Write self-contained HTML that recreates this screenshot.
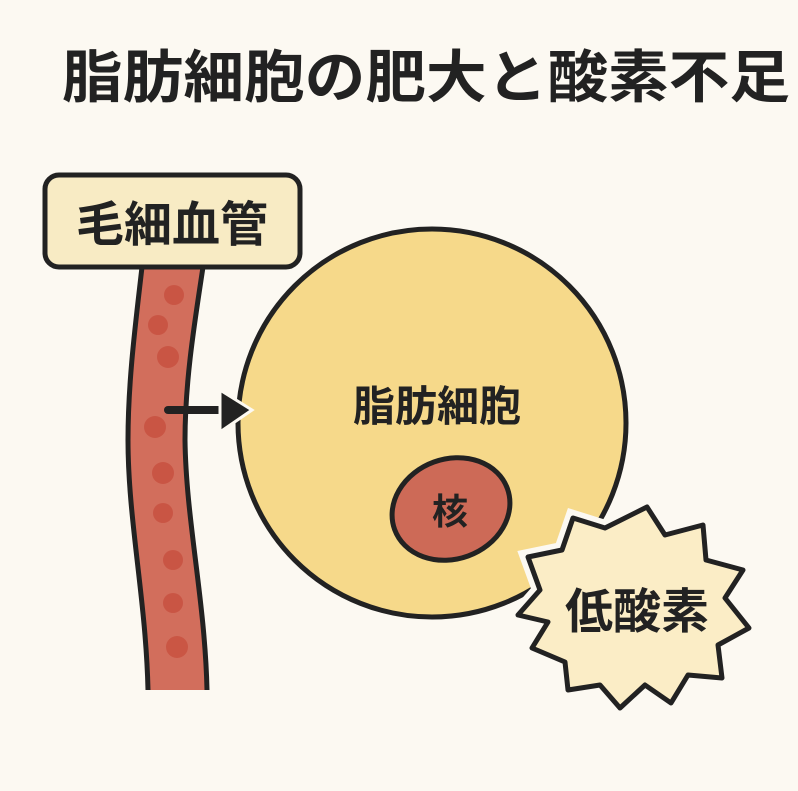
<!DOCTYPE html>
<html><head><meta charset="utf-8"><style>
html,body{margin:0;padding:0;background:#fcf9f2}
svg{display:block}
text{font-family:"Liberation Sans","Noto Sans CJK JP",sans-serif;font-weight:bold;fill:#222}
</style></head><body>
<svg width="798" height="791" viewBox="0 0 798 791" xmlns="http://www.w3.org/2000/svg">
<rect width="798" height="791" fill="#fcf9f2"/>
<text x="62" y="97" font-size="57" textLength="728" lengthAdjust="spacingAndGlyphs">脂肪細胞の肥大と酸素不足</text>
<!-- capillary -->
<path d="M142,267 C136,320 128,380 128,440 C128,520 146,600 148,690 L207,690 C205,600 186,520 185,440 C185,380 195,320 203,267 Z" fill="#d26e5c"/>
<path d="M142,267 C136,320 128,380 128,440 C128,520 146,600 148,690" fill="none" stroke="#222" stroke-width="5"/>
<path d="M207,690 C205,600 186,520 185,440 C185,380 195,320 203,267" fill="none" stroke="#222" stroke-width="5"/>
<g fill="#c8503f" opacity="0.8">
<circle cx="174" cy="295" r="10"/><circle cx="158" cy="325" r="10"/><circle cx="168" cy="357" r="11"/>
<circle cx="155" cy="427" r="11"/><circle cx="163" cy="473" r="11"/><circle cx="163" cy="513" r="10"/>
<circle cx="173" cy="560" r="10"/><circle cx="173" cy="603" r="10"/><circle cx="177" cy="647" r="11"/>
</g>
<rect x="45" y="175" width="255" height="92" rx="14" fill="#f8ebc4" stroke="#222" stroke-width="5"/>
<text x="172" y="241" font-size="48" text-anchor="middle">毛細血管</text>
<!-- cell -->
<circle cx="432" cy="423" r="194" fill="#f6d98a" stroke="#222" stroke-width="5"/>
<!-- arrow -->
<line x1="168" y1="410" x2="225" y2="410" stroke="#222" stroke-width="8" stroke-linecap="round"/>
<polygon points="220,390 252,410 220,432" fill="#222" stroke="#fcf9f2" stroke-width="3"/>
<text x="437" y="421" font-size="42" text-anchor="middle">脂肪細胞</text>
<ellipse cx="451" cy="509" rx="60" ry="50" transform="rotate(-20 451 509)" fill="#cd6a57" stroke="#222" stroke-width="5"/>
<text x="450" y="524" font-size="36" text-anchor="middle">核</text>
<!-- starburst -->
<polygon points="647,507 665,535 703,525 706,560 743,570 725,598 749,628 718,645 722,678 688,675 671,703 645,685 620,708 600,685 568,690 565,662 532,648 548,622 518,615 540,590 528,557 562,550 573,518 605,528" fill="#fbedc6" stroke="#fcf9f2" stroke-width="16" stroke-linejoin="miter"/>
<polygon points="647,507 665,535 703,525 706,560 743,570 725,598 749,628 718,645 722,678 688,675 671,703 645,685 620,708 600,685 568,690 565,662 532,648 548,622 518,615 540,590 528,557 562,550 573,518 605,528" fill="#fbedc6" stroke="#222" stroke-width="5" stroke-linejoin="round"/>
<text x="637" y="628" font-size="48" text-anchor="middle">低酸素</text>
</svg>
</body></html>
